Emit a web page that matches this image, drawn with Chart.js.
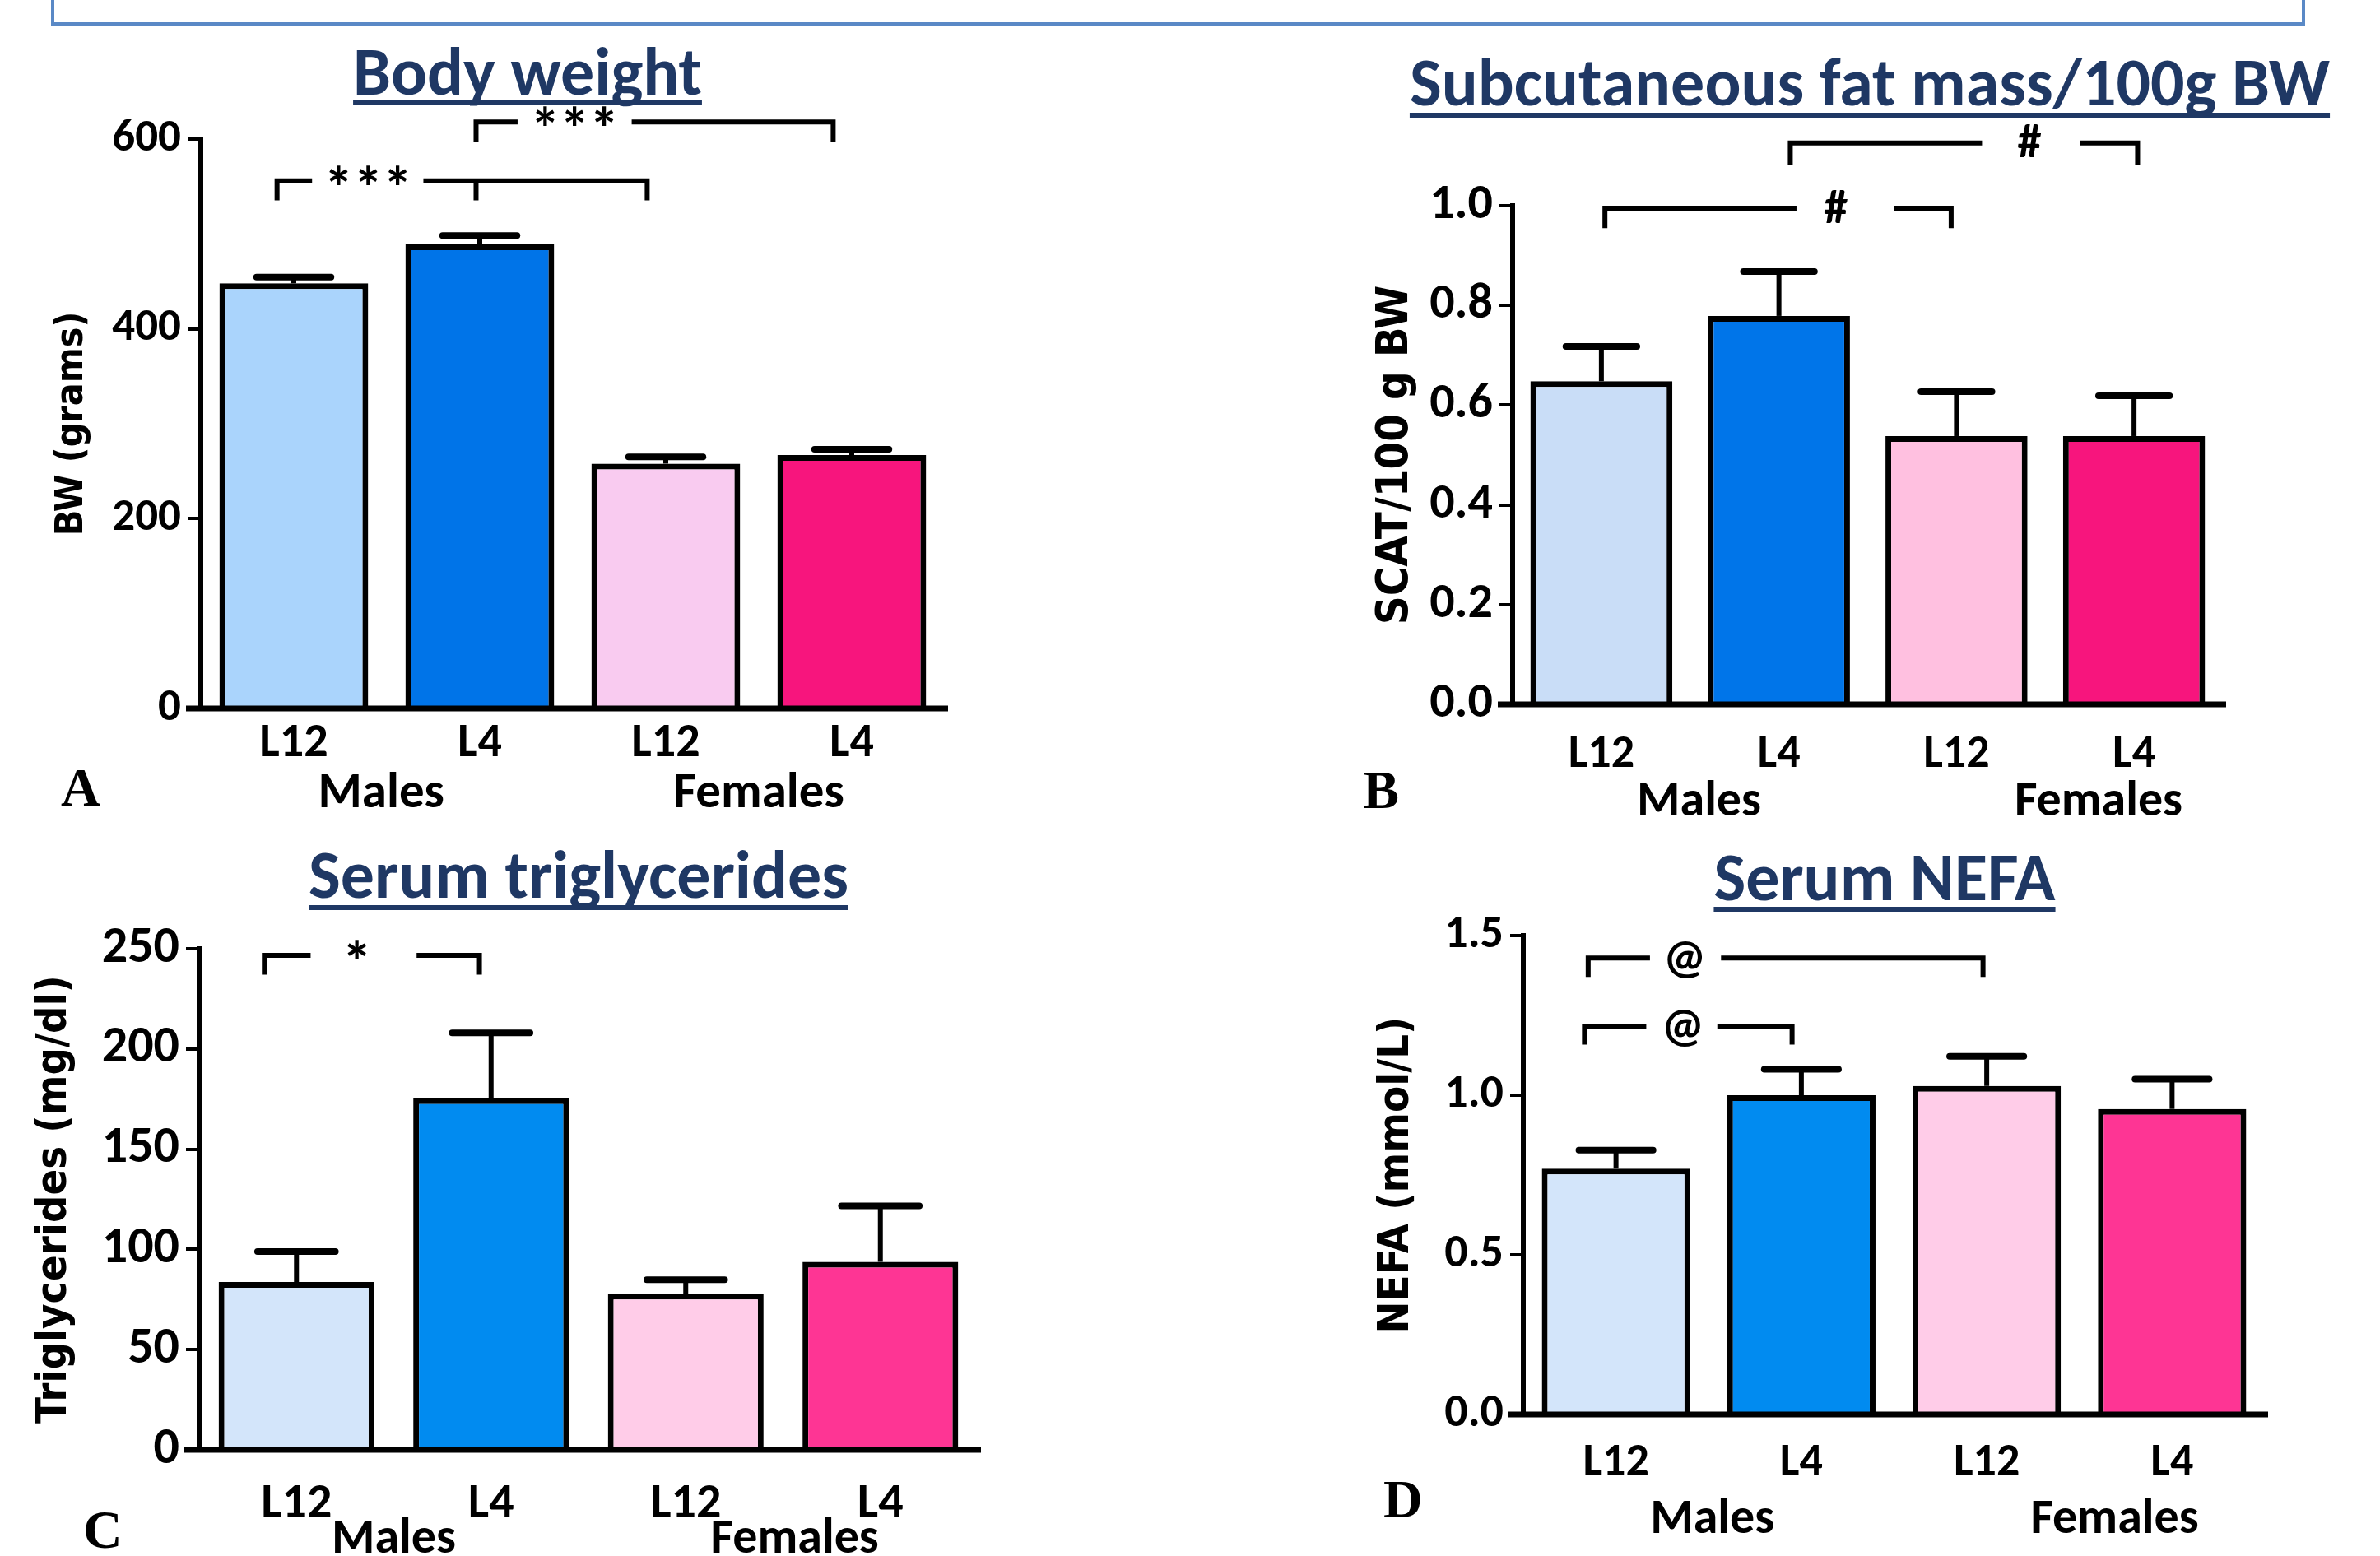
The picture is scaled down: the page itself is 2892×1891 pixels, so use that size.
<!DOCTYPE html>
<html>
<head>
<meta charset="utf-8">
<script src="https://cdn.jsdelivr.net/npm/chart.js@4.4.1/dist/chart.umd.min.js"></script>
<style>
  body { margin: 0; width: 2892px; height: 1891px; background: #fff; position: relative; overflow: hidden; }
  canvas { position: absolute; }
  .frame { position: absolute; left: 62px; top: -10px; width: 2731px; height: 33px; border: 4px solid #5a89c6; }
  .title { position: absolute; transform: translateX(-50%); white-space: nowrap; line-height: 1;
    font-family: Carlito, "Liberation Sans Narrow", sans-serif; font-weight: bold; font-size: 82px; color: #1f3864;
    text-decoration: underline; text-decoration-thickness: 6px; text-decoration-skip-ink: none; }
  .letter { position: absolute; line-height: 1; font-family: "Liberation Serif", serif; font-weight: bold; font-size: 66px; color: #000; }
</style>
</head>
<body>
<div class="frame"></div>

<div class="title" style="left:641px; top:46px; text-underline-offset:6px">Body weight</div>
<div class="title" style="left:2272px; top:59px; text-underline-offset:9px">Subcutaneous fat mass/100g BW</div>
<div class="title" style="left:703px; top:1022px; text-underline-offset:9px">Serum triglycerides</div>
<div class="title" style="left:2290px; top:1025px; text-underline-offset:8px">Serum NEFA</div>

<div class="letter" style="left:74px; top:924px">A</div>
<div class="letter" style="left:1656px; top:927px">B</div>
<div class="letter" style="left:101px; top:1826px">C</div>
<div class="letter" style="left:1681px; top:1789px">D</div>

<canvas id="chartA" width="1446" height="1000" style="left:0; top:0"></canvas>
<canvas id="chartB" width="1446" height="1000" style="left:1446px; top:0"></canvas>
<canvas id="chartC" width="1446" height="891" style="left:0; top:1000px"></canvas>
<canvas id="chartD" width="1446" height="891" style="left:1446px; top:1000px"></canvas>

<script>
// datos (media + error estandar)
const categories = ['L12', 'L4', 'L12', 'L4'];
const sexLabels = ['Males', 'Females'];

const bwMean = [448, 489, 258, 267];
const bwSem = [6.6, 9.4, 7.2, 6.1];
const bwTicks = [0, 200, 400, 600];
const bwTickLabels = ['0', '200', '400', '600'];

const scatMean = [0.648, 0.779, 0.538, 0.538];
const scatSem = [0.070, 0.089, 0.089, 0.081];
const scatTicks = [0, 0.2, 0.4, 0.6, 0.8, 1.0];
const scatTickLabels = ['0.0', '0.2', '0.4', '0.6', '0.8', '1.0'];

const tgMean = [83.7, 175.4, 77.9, 93.8];
const tgSem = [15.2, 32.6, 7.0, 27.9];
const tgTicks = [0, 50, 100, 150, 200, 250];
const tgTickLabels = ['0', '50', '100', '150', '200', '250'];

const nefaMean = [0.770, 1.000, 1.029, 0.957];
const nefaSem = [0.058, 0.081, 0.093, 0.093];
const nefaTicks = [0, 0.5, 1.0, 1.5];
const nefaTickLabels = ['0.0', '0.5', '1.0', '1.5'];

// comparaciones significativas (posiciones en indices de categoria / valores del eje)
const bwSig = [
  { label: '***', from: -0.09, to: 1.90, y: 556, drop: 538, gap: [0.085, 0.71], at: 0.40, tick: 0.98 },
  { label: '***', from: 0.98, to: 2.90, y: 618, drop: 600, gap: [1.19, 1.83], at: 1.51 }
];
const scatSig = [
  { label: '#', from: 0.02, to: 1.97, y: 0.995, drop: 0.960, gap: [1.085, 1.66], at: 1.32 },
  { label: '#', from: 1.064, to: 3.02, y: 1.126, drop: 1.086, gap: [2.13, 2.71], at: 2.41 }
];
const tgSig = [
  { label: '*', from: -0.165, to: 0.94, y: 246.7, drop: 238.3, gap: [0.06, 0.63], at: 0.31 }
];
const nefaSig = [
  { label: '@', from: -0.15, to: 1.98, y: 1.430, drop: 1.378, gap: [0.17, 0.58], at: 0.37 },
  { label: '@', from: -0.17, to: 0.95, y: 1.214, drop: 1.166, gap: [0.15, 0.56], at: 0.36 }
];

const NARROW = 'Carlito, "Liberation Sans Narrow", sans-serif';

// errores, eje x, corchetes y etiquetas de grupo
const extrasPlugin = {
  id: 'extras',
  afterDatasetsDraw(chart) {
    const o = chart.options.plugins.extras;
    const { ctx, chartArea: a } = chart;
    const x = chart.scales.x, y = chart.scales.y;
    const meta = chart.getDatasetMeta(0);
    ctx.save();
    ctx.strokeStyle = '#000';
    ctx.fillStyle = '#000';

    meta.data.forEach((bar, i) => {
      const top = y.getPixelForValue(o.mean[i] + o.sem[i]);
      const half = bar.width / 4;
      ctx.lineWidth = 6;
      ctx.lineCap = 'butt';
      ctx.beginPath();
      ctx.moveTo(bar.x, bar.y);
      ctx.lineTo(bar.x, top);
      ctx.stroke();
      ctx.lineWidth = 8;
      ctx.lineCap = 'round';
      ctx.beginPath();
      ctx.moveTo(bar.x - half, top);
      ctx.lineTo(bar.x + half, top);
      ctx.stroke();
    });

    ctx.lineWidth = 7;
    ctx.lineCap = 'butt';
    ctx.beginPath();
    ctx.moveTo(a.left - 18, a.bottom);
    ctx.lineTo(a.right + 4, a.bottom);
    ctx.stroke();

    o.sig.forEach(b => {
      const yl = y.getPixelForValue(b.y), yd = y.getPixelForValue(b.drop);
      const x1 = x.getPixelForValue(b.from), x2 = x.getPixelForValue(b.to);
      const g1 = x.getPixelForValue(b.gap[0]), g2 = x.getPixelForValue(b.gap[1]);
      ctx.lineWidth = 6;
      ctx.lineCap = 'square';
      ctx.beginPath();
      ctx.moveTo(x1, yd);
      ctx.lineTo(x1, yl);
      ctx.lineTo(g1, yl);
      ctx.moveTo(g2, yl);
      ctx.lineTo(x2, yl);
      ctx.lineTo(x2, yd);
      if (b.tick != null) {
        const xt = x.getPixelForValue(b.tick);
        ctx.moveTo(xt, yl);
        ctx.lineTo(xt, yd);
      }
      ctx.stroke();
      // los asteriscos quedan altos en la fuente, se bajan un poco
      const star = b.label.indexOf('*') >= 0;
      ctx.font = 'bold ' + (star ? 72 : 58) + 'px ' + NARROW;
      ctx.textAlign = 'center';
      ctx.textBaseline = 'middle';
      ctx.fillText(b.label, x.getPixelForValue(b.at), yl + (star ? 16 : 3));
    });

    ctx.font = 'bold ' + o.groupSize + 'px ' + NARROW;
    ctx.textAlign = 'center';
    ctx.textBaseline = 'middle';
    sexLabels.forEach((s, i) => {
      ctx.fillText(s, x.getPixelForValue(o.groupAt[i]), a.bottom + o.groupDy);
    });
    ctx.restore();
  }
};

function makePanel(id, p) {
  new Chart(document.getElementById(id), {
    type: 'bar',
    data: {
      labels: categories,
      datasets: [{
        data: p.mean,
        backgroundColor: p.colors,
        borderColor: '#000',
        borderWidth: 7,
        barPercentage: 0.8,
        categoryPercentage: 1
      }]
    },
    options: {
      responsive: false,
      animation: false,
      layout: { padding: p.pad },
      plugins: {
        legend: { display: false },
        tooltip: { enabled: false },
        extras: { mean: p.mean, sem: p.sem, sig: p.sig, groupAt: p.groupAt, groupDy: p.groupDy, groupSize: p.groupSize }
      },
      scales: {
        x: {
          afterFit: s => { s.height = 100; },
          border: { display: false },
          grid: { display: false },
          ticks: { color: '#000', padding: p.xPad, font: { family: NARROW, weight: 'bold', size: p.xSize } }
        },
        y: {
          min: p.ticks[0],
          max: p.ticks[p.ticks.length - 1],
          afterFit: s => { s.width = p.yWidth; },
          afterBuildTicks: s => { s.ticks = p.ticks.map(v => ({ value: v })); },
          border: { display: true, width: 6, color: '#000' },
          grid: { display: true, drawOnChartArea: false, drawTicks: true, tickLength: 16, lineWidth: 4, color: '#000' },
          ticks: {
            color: '#000', padding: 8,
            font: { family: NARROW, weight: 'bold', size: p.ySize },
            callback: (v, i) => p.tickLabels[i]
          },
          title: {
            display: true, text: p.yTitle, color: '#000',
            font: { family: '"DejaVu Sans Condensed", "DejaVu Sans"', weight: 'bold', size: p.titleSize },
            padding: { top: p.titlePad, bottom: 0 }
          }
        }
      }
    },
    plugins: [extrasPlugin]
  });
}

makePanel('chartA', {
  mean: bwMean, sem: bwSem, sig: bwSig, ticks: bwTicks, tickLabels: bwTickLabels,
  colors: ['#aad4fc', '#0074e8', '#f9cbf0', '#f7157d'],
  yTitle: 'BW (grams)', titleSize: 46, titlePad: 60,
  pad: { top: 169, right: 298, bottom: 39, left: 0 }, yWidth: 244,
  ySize: 55, xSize: 58, xPad: 1, groupAt: [0.47, 2.5], groupDy: 105, groupSize: 61
});

makePanel('chartB', {
  mean: scatMean, sem: scatSem, sig: scatSig, ticks: scatTicks, tickLabels: scatTickLabels,
  colors: ['#c9ddf7', '#0075e9', '#ffc0e0', '#f7157d'],
  yTitle: 'SCAT/100 g BW', titleSize: 54, titlePad: 218,
  pad: { top: 250, right: 191, bottom: 44, left: 0 }, yWidth: 392,
  ySize: 60, xSize: 56, xPad: 20, groupAt: [0.55, 2.80], groupDy: 120, groupSize: 60
});

makePanel('chartC', {
  mean: tgMean, sem: tgSem, sig: tgSig, ticks: tgTicks, tickLabels: tgTickLabels,
  colors: ['#d3e5fa', '#018bf0', '#ffcce8', '#fe3594'],
  yTitle: 'Triglycerides (mg/dl)', titleSize: 52, titlePad: 35,
  pad: { top: 153, right: 258, bottom: 29, left: 0 }, yWidth: 242,
  ySize: 62, xSize: 60, xPad: 23, groupAt: [0.50, 2.56], groupDy: 110, groupSize: 60
});

makePanel('chartD', {
  mean: nefaMean, sem: nefaSem, sig: nefaSig, ticks: nefaTicks, tickLabels: nefaTickLabels,
  colors: ['#d3e5fa', '#018bf0', '#ffcce8', '#fe3594'],
  yTitle: 'NEFA (mmol/L)', titleSize: 52, titlePad: 220,
  pad: { top: 137, right: 140, bottom: 72, left: 0 }, yWidth: 405,
  ySize: 56, xSize: 56, xPad: 18, groupAt: [0.52, 2.69], groupDy: 129, groupSize: 60
});
</script>
</body>
</html>
